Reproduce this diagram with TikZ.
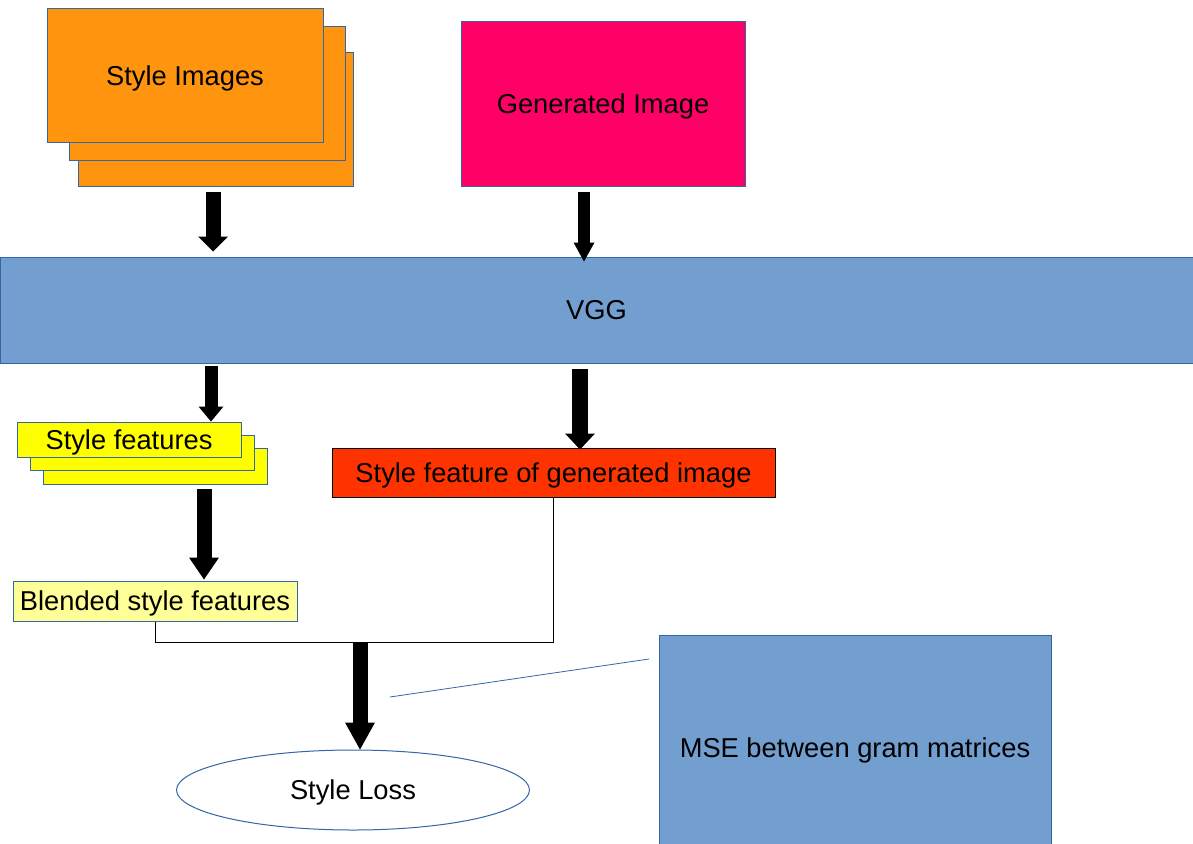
\documentclass[tikz,border=0pt]{standalone}
\usepackage{fontspec}
\setmainfont{Liberation Sans}
\usepackage{xcolor}
\usepackage{tikz}
\usetikzlibrary{arrows.meta, shapes.geometric}

\definecolor{imgorange}{HTML}{FF950E}
\definecolor{genpink}{HTML}{FF0066}
\definecolor{vggblue}{HTML}{729FCF}
\definecolor{edgeblue}{HTML}{3465A4}
\definecolor{featyellow}{HTML}{FFFF00}
\definecolor{paleyellow}{HTML}{FFFF99}
\definecolor{featred}{HTML}{FF3300}

\begin{document}
\begin{tikzpicture}[x=1pt,y=-1pt,
    box/.style={draw=edgeblue,line width=1pt,inner sep=0pt,text depth=0pt,font=\fontsize{27.3pt}{32pt}\selectfont},
    link/.style={draw=black,line width=1pt},
    callout/.style={draw=edgeblue,line width=0.8pt},
    blockarrow/.style n args={3}{draw=black,line width=#1,-{Triangle[width=#2,length=#3,line width=0pt]}}]
    \useasboundingbox (0,0) rectangle (1193,843);

    % style images, stacked
    \node[box,fill=imgorange,minimum width=275pt,minimum height=133pt] (styleimgC) at (215.5,119.5) {};
    \node[box,fill=imgorange,minimum width=276pt,minimum height=133pt] (styleimgB) at (207,93.5) {};
    \node[box,fill=imgorange,minimum width=276pt,minimum height=133pt] (styleimgA) at (185,75.5) {Style Images};

    \node[box,fill=genpink,minimum width=284pt,minimum height=164pt] (genimg) at (603,104) {Generated Image};

    \node[box,fill=vggblue,minimum width=1193pt,minimum height=106pt] (vgg) at (596.5,310) {VGG};

    % style features, stacked
    \node[box,fill=featyellow,minimum width=224pt,minimum height=36pt] (stylefeatC) at (155,466) {};
    \node[box,fill=featyellow,minimum width=224pt,minimum height=35pt] (stylefeatB) at (142,452.5) {};
    \node[box,fill=featyellow,minimum width=224pt,minimum height=35pt] (stylefeatA) at (129,439.5) {Style features};

    \node[box,draw=black,fill=featred,minimum width=443pt,minimum height=49pt] (genfeat) at (553.5,472.5) {Style feature of generated image};
    \node[box,fill=paleyellow,minimum width=284pt,minimum height=40pt] (blended) at (155,601) {Blended style features};

    \node[box,ellipse,fill=white,minimum width=353pt,minimum height=80pt] (loss) at (353,790) {Style Loss};
    \node[box,fill=vggblue,minimum width=392pt,minimum height=226pt] (mse) at (855,748) {MSE between gram matrices};

    \coordinate (merge) at (360,642);
    \coordinate (calloutA) at (390,697);
    \coordinate (calloutB) at (649,659);

    % block arrows
    \draw[blockarrow={15pt}{30pt}{15pt},shorten <=5pt,shorten >=5pt] ([xshift=-2.5pt]styleimgC.south) -- ([xshift=-2.5pt]styleimgC.south |- vgg.north);
    \draw[blockarrow={12pt}{21pt}{19pt},shorten <=5pt,shorten >=-5pt] ([xshift=-19pt]genimg.south) -- ([xshift=-19pt]genimg.south |- vgg.north);
    \draw[blockarrow={13pt}{25pt}{15pt},shorten <=2pt] ([xshift=82pt]stylefeatA.north |- vgg.south) -- ([xshift=82pt]stylefeatA.north);
    \draw[blockarrow={16pt}{30pt}{16pt},shorten <=5pt,shorten >=-2pt] ([xshift=26.5pt]genfeat.north |- vgg.south) -- ([xshift=26.5pt]genfeat.north);
    \draw[blockarrow={15pt}{30pt}{22pt},shorten <=4pt,shorten >=1pt] ([xshift=49pt]stylefeatC.south) -- ([xshift=49pt]blended.north);
    \draw[blockarrow={15pt}{30pt}{27pt},shorten <=1pt] (merge) -- (merge |- loss.north);

    % thin connectors
    \draw[link] (blended.south) -- ++(0,21) -| (genfeat.south);
    \draw[callout] (calloutB) -- (calloutA);
\end{tikzpicture}
\end{document}
